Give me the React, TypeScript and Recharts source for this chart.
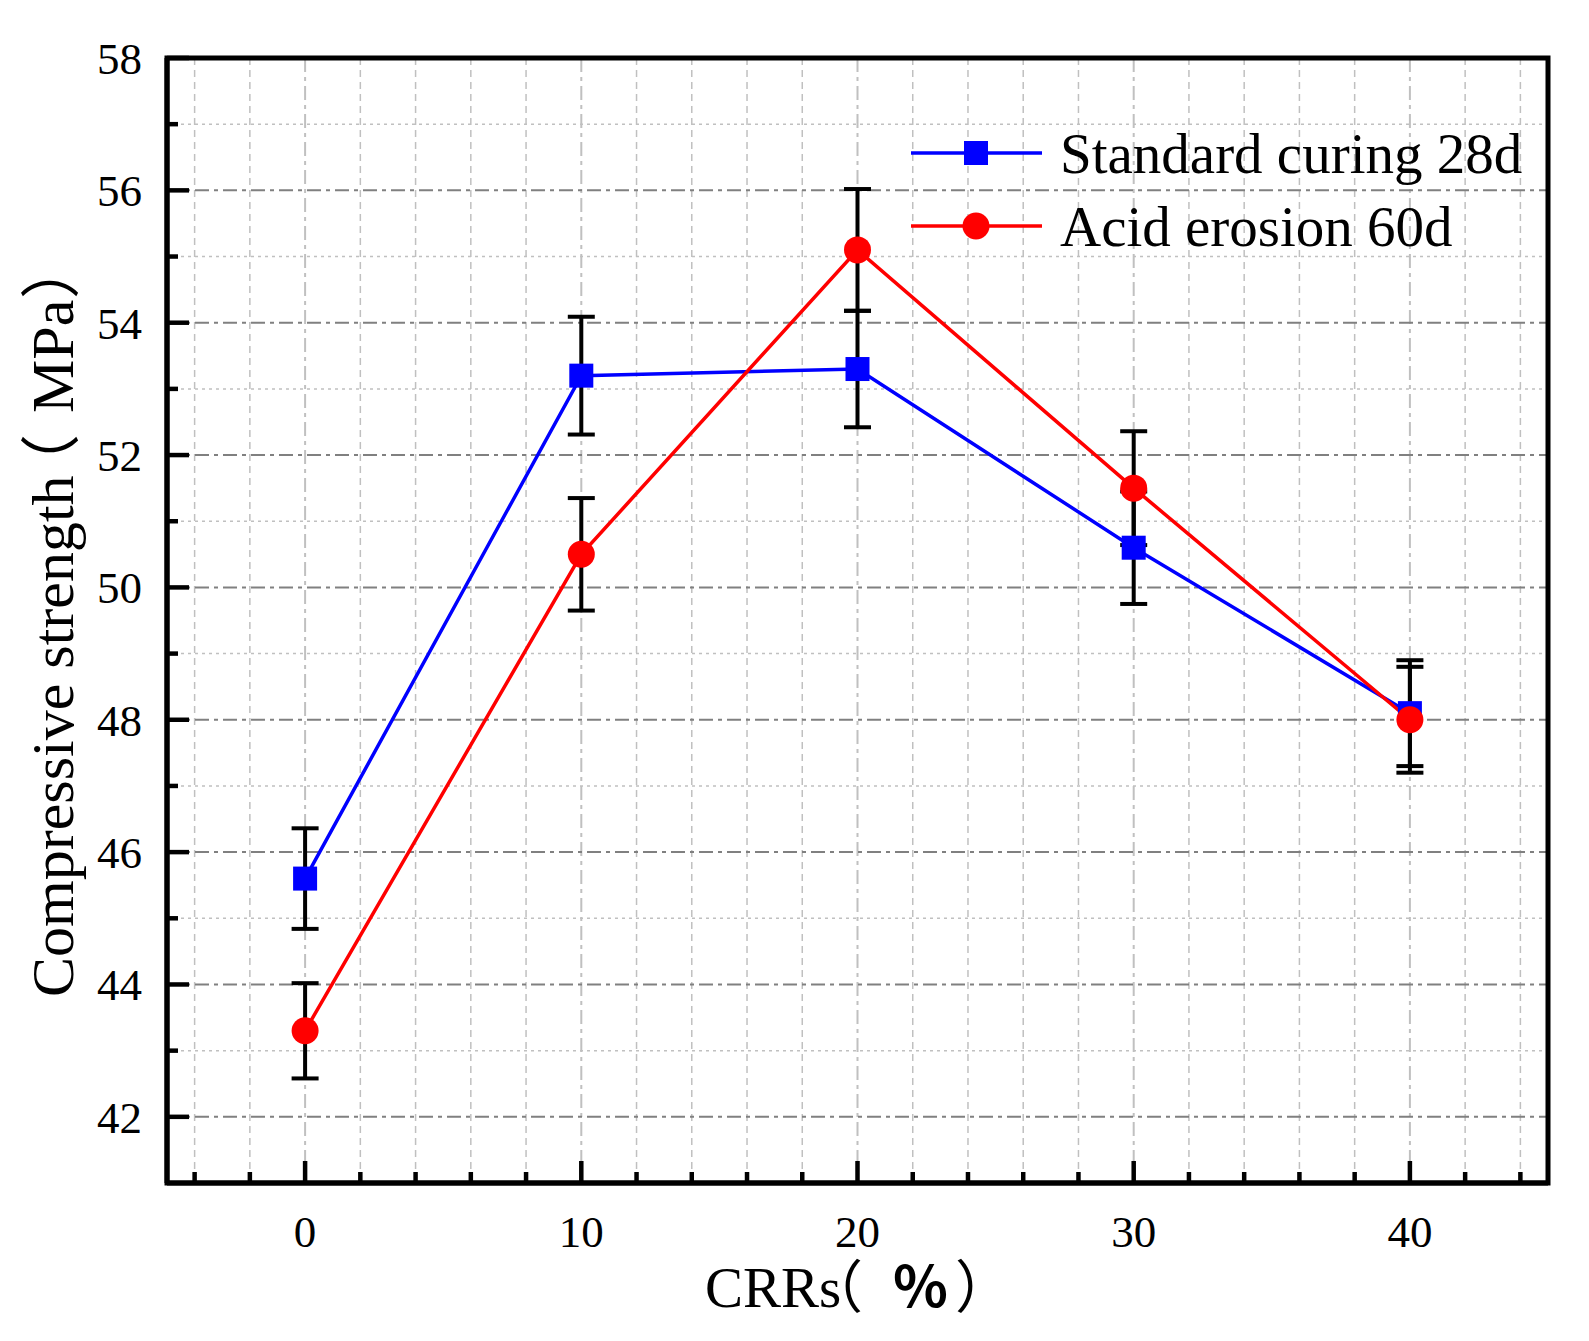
import React from "react";
import { CartesianGrid, ErrorBar, Legend, Line, LineChart, ReferenceArea, XAxis, YAxis } from "recharts";

// CRRs replacement ratio (%)
const crrs = [0, 10, 20, 30, 40];
const standardCuring = [45.6, 53.2, 53.3, 50.6, 48.1];
const standardError = [0.76, 0.89, 0.88, 0.85, 0.8];
const acidErosion = [43.3, 50.5, 55.1, 51.5, 48.0];
const acidError = [0.72, 0.85, 0.92, 0.86, 0.8];

const xTicks = [-4, -2, 0, 2, 4, 6, 8, 10, 12, 14, 16, 18, 20, 22, 24, 26, 28, 30, 32, 34, 36, 38, 40, 42, 44];
const xLabels = [0, 10, 20, 30, 40];
const xMinorGrid = [-4, -2, 2, 4, 6, 8, 12, 14, 16, 18, 22, 24, 26, 28, 32, 34, 36, 38, 42, 44];
const yTicks = [42, 43, 44, 45, 46, 47, 48, 49, 50, 51, 52, 53, 54, 55, 56, 57, 58];
const yLabels = [42, 44, 46, 48, 50, 52, 54, 56, 58];
const yMajorGrid = [42, 44, 46, 48, 50, 52, 54, 56];
const yMinorGrid = [43, 45, 47, 49, 51, 53, 55, 57];
const legendOrder = ["standard", "acid"];

const SERIF = '"Liberation Serif", "Times New Roman", serif';
const CJK = '"Noto Sans CJK SC", sans-serif';
const BLUE = "#0000ff";
const RED = "#ff0000";

const data = crrs.map((x, i) => ({
  x,
  standard: standardCuring[i],
  standardErr: standardError[i],
  acid: acidErosion[i],
  acidErr: acidError[i]
}));

function XTick(props: any) {
  const { x, y, payload } = props;
  const major = xLabels.includes(payload.value);
  return (
    <g>
      <line x1={x} x2={x} y1={y} y2={y - (major ? 22 : 11)} stroke="#000" strokeWidth={4.5} />
      {major && (
        <text x={x} y={y + 64} textAnchor="middle" fontSize={45} fontFamily={SERIF} fill="#000">
          {payload.value}
        </text>
      )}
    </g>
  );
}

function YTick(props: any) {
  const { x, y, payload } = props;
  const major = yLabels.includes(payload.value);
  return (
    <g>
      <line x1={x} x2={x + (major ? 22 : 11)} y1={y} y2={y} stroke="#000" strokeWidth={4.5} />
      {major && (
        <text x={x - 25} y={y + 16} textAnchor="end" fontSize={45} fontFamily={SERIF} fill="#000">
          {payload.value}
        </text>
      )}
    </g>
  );
}

function SquareDot(props: any) {
  const { cx, cy } = props;
  if (cx == null || cy == null) return null;
  return <rect x={cx - 12} y={cy - 12} width={24} height={24} fill={BLUE} />;
}

function XTitle() {
  const y = 1307;
  return (
    <text y={y} fontSize={57} fill="#000">
      <tspan x={705} fontFamily={SERIF}>CRRs</tspan>
      <tspan x={806} fontFamily={CJK}>（</tspan>
      <tspan x={893} fontFamily={CJK} fontWeight="bold">%</tspan>
      <tspan x={955} fontFamily={CJK}>）</tspan>
    </text>
  );
}

function YTitle() {
  return (
    <text transform="translate(73, 997) rotate(-90)" y={0} fontSize={60} fill="#000">
      <tspan x={0} fontFamily={SERIF}>Compressive strength</tspan>
      <tspan x={503} fontFamily={CJK}>（</tspan>
      <tspan x={584} fontFamily={SERIF}>MPa</tspan>
      <tspan x={698} fontFamily={CJK}>）</tspan>
    </text>
  );
}

function LegendContent(props: any) {
  const items = [...(props.payload || [])].sort(
    (a: any, b: any) => legendOrder.indexOf(a.dataKey) - legendOrder.indexOf(b.dataKey)
  );
  return (
    <svg width={650} height={150} style={{ display: "block" }}>
      {items.map((item: any, i: number) => {
        const cy = 43 + i * 73;
        const color = item.color;
        return (
          <g key={item.value}>
            <line x1={6} x2={137} y1={cy} y2={cy} stroke={color} strokeWidth={3.5} />
            {item.dataKey === "standard" ? (
              <rect x={71 - 12} y={cy - 12} width={24} height={24} fill={color} />
            ) : (
              <circle cx={71} cy={cy} r={13.5} fill={color} />
            )}
            <text x={155} y={cy + 20} fontSize={57} fontFamily={SERIF} fill="#000">
              {item.value}
            </text>
          </g>
        );
      })}
    </svg>
  );
}

export default function App() {
  return (
    <div style={{ position: "absolute", left: 0, top: 0, background: "#fff" }}>
      <LineChart width={1589} height={1341} data={data} margin={{ top: 58, right: 41, bottom: 0, left: 0 }}>
        <CartesianGrid horizontal={false} verticalValues={xMinorGrid} stroke="#c0c0c0" strokeWidth={1.5} strokeDasharray="7 5" />
        <CartesianGrid horizontal={false} verticalValues={xLabels} stroke="#c0c0c0" strokeWidth={2} strokeDasharray="14 5 4 5" />
        <CartesianGrid vertical={false} horizontalValues={yMinorGrid} stroke="#c0c0c0" strokeWidth={1.5} strokeDasharray="3 4" />
        <CartesianGrid vertical={false} horizontalValues={yMajorGrid} stroke="#808080" strokeWidth={2} strokeDasharray="14 5 4 5" />
        <XAxis
          dataKey="x"
          type="number"
          domain={[-5, 45]}
          ticks={xTicks}
          interval={0}
          height={158}
          tickSize={0}
          tickMargin={0}
          tickLine={false}
          tick={<XTick />}
          axisLine={{ stroke: "#000", strokeWidth: 5 }}
          label={<XTitle />}
        />
        <YAxis
          type="number"
          domain={[41, 58]}
          ticks={yTicks}
          interval={0}
          width={167}
          tickSize={0}
          tickMargin={0}
          tickLine={false}
          tick={<YTick />}
          axisLine={{ stroke: "#000", strokeWidth: 5 }}
          label={<YTitle />}
        />
        <ReferenceArea x1={-5} x2={45} y1={41} y2={58} fill="none" fillOpacity={0} stroke="#000" strokeWidth={5} />
        <Legend
          layout="horizontal"
          verticalAlign="middle"
          align="center"
          wrapperStyle={{ left: 905, top: 110, width: 650, height: 150 }}
          content={<LegendContent />}
        />
        <Line
          dataKey="standard"
          name="Standard curing 28d"
          stroke={BLUE}
          strokeWidth={3.5}
          dot={<SquareDot />}
          activeDot={false}
          isAnimationActive={false}
        >
          <ErrorBar dataKey="standardErr" direction="y" width={13.5} strokeWidth={4} stroke="#000" isAnimationActive={false} />
        </Line>
        <Line
          dataKey="acid"
          name="Acid erosion 60d"
          stroke={RED}
          strokeWidth={3.5}
          dot={{ r: 13.5, fill: RED, stroke: "none" }}
          activeDot={false}
          isAnimationActive={false}
        >
          <ErrorBar dataKey="acidErr" direction="y" width={13.5} strokeWidth={4} stroke="#000" isAnimationActive={false} />
        </Line>
      </LineChart>
    </div>
  );
}
